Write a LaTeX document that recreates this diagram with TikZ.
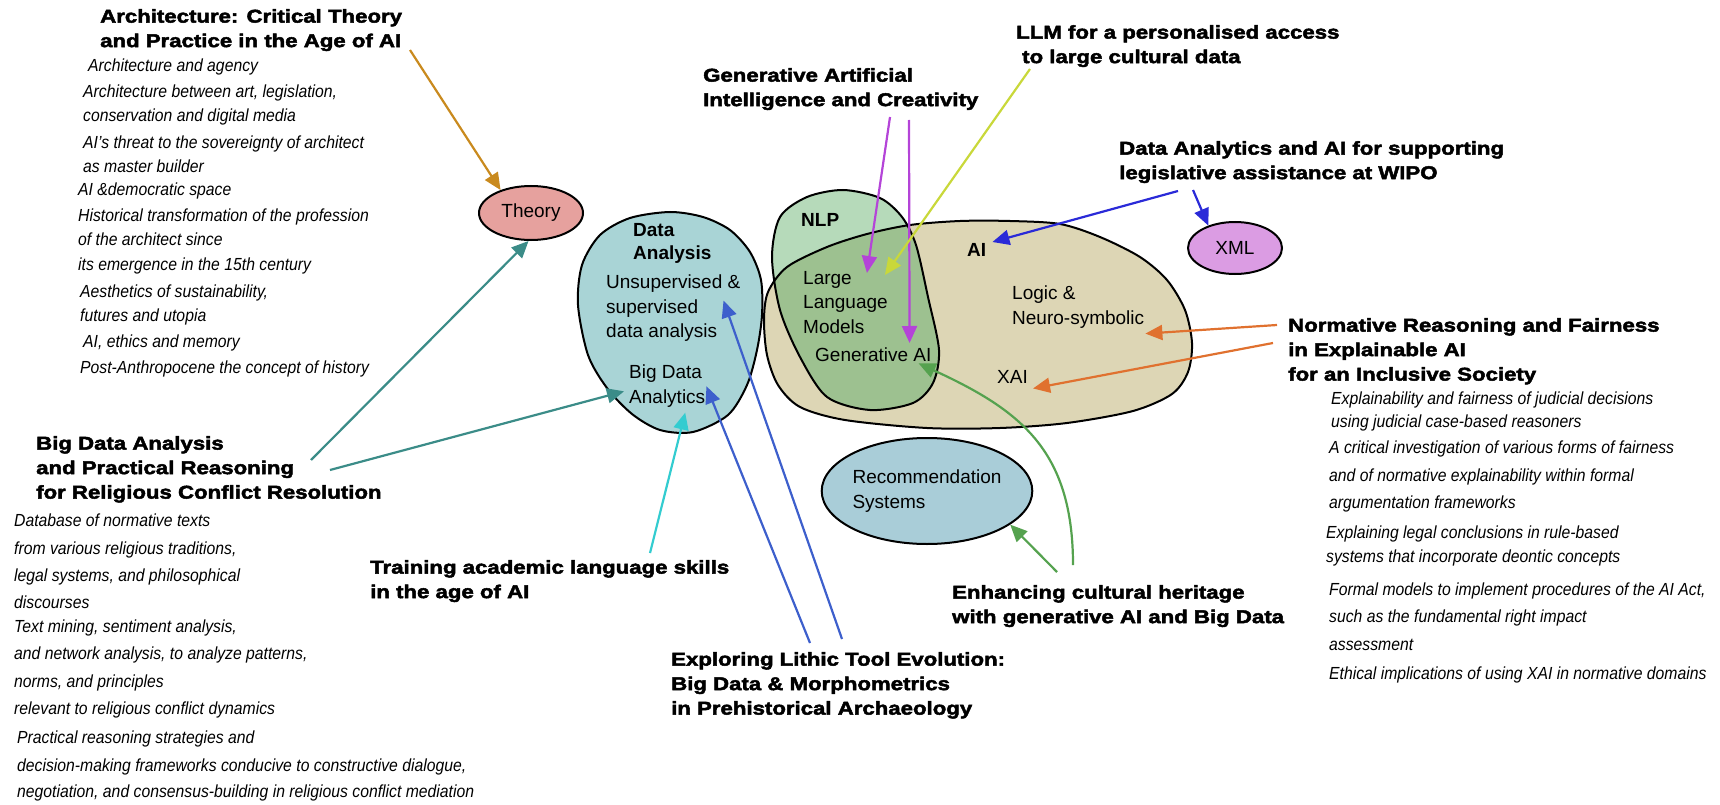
\documentclass[tikz,border=0pt]{standalone}
\usepackage{fontspec}
\setmainfont{Liberation Sans}
\newfontfamily\headfont{Liberation Sans}[FakeStretch=1.2,FakeBold=2.6]
\newfontfamily\itemfont{Liberation Sans}[FakeStretch=0.9]
\usetikzlibrary{arrows.meta,positioning,shapes.geometric}

\definecolor{theoryfill}{HTML}{E6A19E}
\definecolor{xmlfill}{HTML}{DB9CE3}
\definecolor{dafill}{HTML}{A9D4D6}
\definecolor{recfill}{HTML}{A9CDD8}
\definecolor{nlpfill}{HTML}{B6DABA}
\definecolor{aifill}{HTML}{DDD6B5}
\definecolor{overlapfill}{HTML}{9DC190}
\definecolor{archcol}{HTML}{C98A1E}
\definecolor{tealcol}{HTML}{3B8C88}
\definecolor{cyancol}{HTML}{33CCD0}
\definecolor{lithcol}{HTML}{3D5FCC}
\definecolor{wipocol}{HTML}{2A2AD8}
\definecolor{gencol}{HTML}{B444D8}
\definecolor{llmcol}{HTML}{C9D83A}
\definecolor{normcol}{HTML}{E0712F}
\definecolor{enhcol}{HTML}{55A24F}

\tikzset{
  head/.style={font=\fontsize{18.5}{24.5}\selectfont\headfont\bfseries, align=left, anchor=north west, inner sep=0pt},
  item/.style={font=\fontsize{17.5}{21}\selectfont\itemfont\itshape, anchor=west, inner sep=0pt, text height=12.5pt, text depth=3.8pt},
  lbl/.style={font=\fontsize{19}{24.5}\selectfont, align=left, anchor=north west, inner sep=1pt},
  lblb/.style={lbl, font=\fontsize{19}{23}\selectfont\bfseries},
  bubble/.style={ellipse, draw=black, line width=2pt, font=\fontsize{19}{24.5}\selectfont, align=left, inner sep=0pt},
  blobline/.style={draw=black, line width=2pt},
  link/.style={line width=2.2pt, -{Triangle[length=17pt,width=15pt]}}
}

\newcommand{\aiblob}{plot[smooth cycle] coordinates {(910,225) (960,221) (1010,221) (1060,224) (1100,237) (1140,257) (1167,280) (1185,310) (1192,343) (1188,372) (1172,394) (1133,411) (1067,423) (1000,428) (927,428) (845,420) (800,407) (778,385) (767,355) (764,320) (768,292) (787,267) (827,247) (867,234)}}
\newcommand{\nlpblob}{plot[smooth cycle] coordinates {(843,190) (880,198) (902,217) (916,245) (928,297) (939,350) (933,383) (913,403) (870,410) (827,397) (800,357) (780,310) (772,257) (780,217) (807,197)}}
\newcommand{\dablob}{plot[smooth cycle] coordinates {(670,212) (703,217) (730,230) (750,252) (761,280) (762,315) (757,350) (747,385) (728,415) (693,432) (660,430) (632,414) (607,388) (588,355) (578,305) (582,265) (600,235) (630,218)}}

\begin{document}
\begin{tikzpicture}[x=1pt,y=-1pt]
\useasboundingbox (0,0) rectangle (1720,805);

% blobs
\fill[aifill] \aiblob;
\fill[nlpfill] \nlpblob;
\begin{scope}
\clip \aiblob;
\fill[overlapfill] \nlpblob;
\end{scope}
\draw[blobline] \aiblob;
\draw[blobline] \nlpblob;
\fill[dafill] \dablob;
\draw[blobline] \dablob;

\node[bubble, fill=theoryfill, minimum width=104pt, minimum height=54pt] (theory) at (531,213) {Theory};
\node[bubble, fill=xmlfill, minimum width=94pt, minimum height=52pt] (xml) at (1235,248) {XML};
\node[bubble, fill=recfill, minimum width=206pt, minimum height=106pt] (rec) at (927,491) {Recommendation\\Systems};

% labels inside the blobs
\node[lblb] (dalabel) at (632,222) {Data\\Analysis};
\node[lbl] (unsup) at (605,274) {Unsupervised \&\\supervised\\data analysis};
\node[lbl] (bigdatan) at (628,364) {Big Data\\Analytics};
\node[lblb] (nlplabel) at (800,212) {NLP};
\node[lbl] (llm) at (802,270) {Large\\Language\\Models};
\node[lbl] (genai) at (814,347) {Generative AI};
\node[lblb] (ailabel) at (966,242) {AI};
\node[lbl] (logic) at (1011,285) {Logic \&\\Neuro-symbolic};
\node[lbl] (xai) at (996,369) {XAI};

% headings
\node[head] (archhead) at (100,9) {Architecture: Critical Theory\\and Practice in the Age of AI};
\node[head] (bdhead) at (36,436) {Big Data Analysis\\and Practical Reasoning\\for Religious Conflict Resolution};
\node[head] (genhead) at (703,68) {Generative Artificial\\Intelligence and Creativity};
\node[head] (llmhead) at (1016,25) {LLM for a personalised access\\\hspace*{6pt}to large cultural data};
\node[head] (wipohead) at (1119,141) {Data Analytics and AI for supporting\\legislative assistance at WIPO};
\node[head] (normhead) at (1288,318) {Normative Reasoning and Fairness\\in Explainable AI\\for an Inclusive Society};
\node[head] (trainhead) at (370,560) {Training academic language skills\\in the age of AI};
\node[head] (enhhead) at (952,585) {Enhancing cultural heritage\\with generative AI and Big Data};
\node[head] (lithhead) at (671,652) {Exploring Lithic Tool Evolution:\\Big Data \& Morphometrics\\in Prehistorical Archaeology};

% topic lists
\foreach \xpos/\ypos/\txt [count=\i] in {
  88/67/{Architecture and agency},
  83/93/{Architecture between art, legislation,},
  83/117/{conservation and digital media},
  83/144/{AI’s threat to the sovereignty of architect},
  83/168/{as master builder},
  78/191/{AI \&democratic space},
  78/217/{Historical transformation of the profession},
  78/241/{of the architect since},
  78/266/{its emergence in the 15th century},
  80/293/{Aesthetics of sustainability,},
  80/317/{futures and utopia},
  83/343/{AI, ethics and memory},
  80/369/{Post-Anthropocene the concept of history}}
  \node[item] (architem\i) at (\xpos,\ypos) {\txt};

\foreach \xpos/\ypos/\txt [count=\i] in {
  14/522/{Database of normative texts},
  14/550/{from various religious traditions,},
  14/577/{legal systems, and philosophical},
  14/604/{discourses},
  14/628/{Text mining, sentiment analysis,},
  14/655/{and network analysis, to analyze patterns,},
  14/683/{norms, and principles},
  14/710/{relevant to religious conflict dynamics},
  17/739/{Practical reasoning strategies and},
  17/767/{decision-making frameworks conducive to constructive dialogue,},
  17/793/{negotiation, and consensus-building in religious conflict mediation}}
  \node[item] (bditem\i) at (\xpos,\ypos) {\txt};

\foreach \xpos/\ypos/\txt [count=\i] in {
  1331/400/{Explainability and fairness of judicial decisions},
  1331/423/{using judicial case-based reasoners},
  1329/449/{A critical investigation of various forms of fairness},
  1329/477/{and of normative explainability within formal},
  1329/504/{argumentation frameworks},
  1326/534/{Explaining legal conclusions in rule-based},
  1326/558/{systems that incorporate deontic concepts},
  1329/591/{Formal models to implement procedures of the AI Act,},
  1329/618/{such as the fundamental right impact},
  1329/646/{assessment},
  1329/675/{Ethical implications of using XAI in normative domains}}
  \node[item] (normitem\i) at (\xpos,\ypos) {\txt};

% arrow tails
\coordinate (archtail) at (410,50);
\coordinate (bdtailA) at (311,460);
\coordinate (bdtailB) at (330,470);
\coordinate (traintail) at (650,553);
\coordinate (lithtailA) at (810,643);
\coordinate (lithtailB) at (842,639);
\coordinate (gentailA) at (890,117);
\coordinate (gentailB) at (909,120);
\coordinate (llmtail) at (1030,69);
\coordinate (wipotailA) at (1178,191);
\coordinate (wipotailB) at (1193,190);
\coordinate (normtailA) at (1277,325);
\coordinate (normtailB) at (1273,343);
\coordinate (enhtailA) at (1057,572);
\coordinate (enhtailB) at (1073,565);

% arrows
\draw[link, archcol] (archtail) -- (theory.143);
\draw[link, tealcol] (bdtailA) -- (theory.265);
\draw[link, tealcol] (bdtailB) -- ([xshift=-4pt,yshift=-5pt]bigdatan.west);
\draw[link, cyancol] (traintail) -- ([xshift=18pt,yshift=-4pt]bigdatan.south);
\draw[link, lithcol] (lithtailA) -- (bigdatan.east);
\draw[link, lithcol] (lithtailB) -- ([xshift=-18pt,yshift=8pt]unsup.east);
\draw[link, gencol] (gentailA) -- ([xshift=-22pt,yshift=-3pt]llm.north east);
\draw[link, gencol] (gentailB) -- ([xshift=-23pt,yshift=4pt]genai.north east);
\draw[link, llmcol] (llmtail) -- ([xshift=-4pt,yshift=-5pt]llm.north east);
\draw[link, wipocol] (wipotailA) -- ([xshift=5pt]ailabel.north east);
\draw[link, wipocol] (wipotailB) -- (xml.140);
\draw[link, normcol] (normtailA) -- ([yshift=-4pt]logic.south east);
\draw[link, normcol] (normtailB) -- ([xshift=4pt,yshift=-4pt]xai.south east);
\draw[link, enhcol] (enhtailA) -- (rec.-22);
\draw[link, enhcol] (enhtailB) .. controls (1073,450) and (1020,410) .. ([xshift=-14pt]genai.south east);
\end{tikzpicture}
\end{document}
